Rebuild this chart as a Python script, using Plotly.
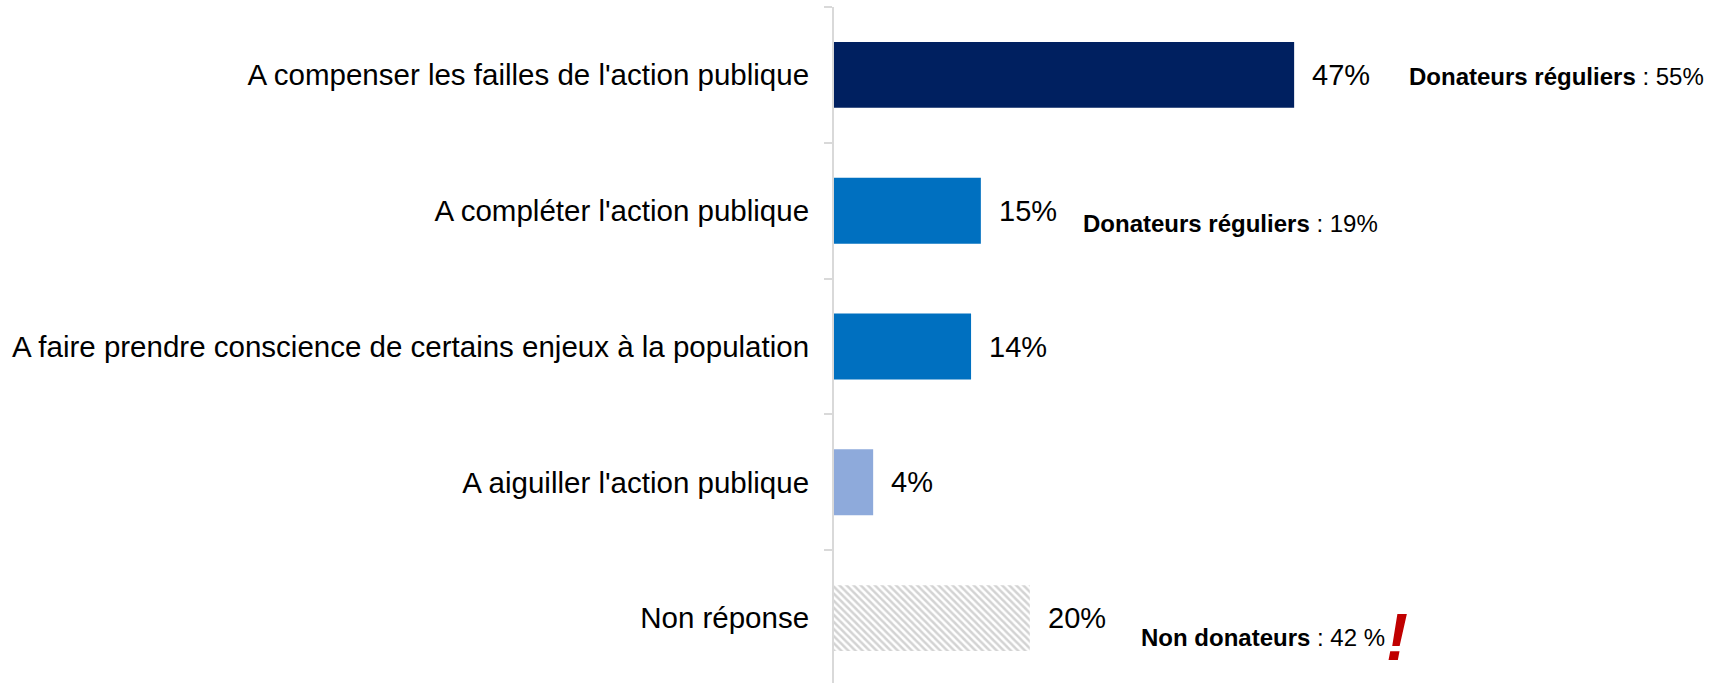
import plotly.graph_objects as go

categories = [
    "A compenser les failles de l'action publique",
    "A compléter l'action publique",
    "A faire prendre conscience de certains enjeux à la population",
    "A aiguiller l'action publique",
    "Non réponse",
]
values = [47, 15, 14, 4, 20]
value_labels = ["47%", "15%", "14%", "4%", "20%"]
bar_colors = ["#002060", "#0070c0", "#0070c0", "#8eaadb"]

# sub-group notes: (category index, bold part, rest, x position in %)
note_rows = [0, 1, 4]
note_bold = ["Donateurs réguliers", "Donateurs réguliers", "Non donateurs"]
note_rest = [" : 55%", " : 19%", " : 42 %"]
note_x = [58.5, 25.2, 31.2]
note_yshift = [-2, -13, -19]

FONT = "Liberation Sans, Arial, sans-serif"

fig = go.Figure()
# solid bars
fig.add_trace(go.Bar(
    y=categories[:4],
    x=values[:4],
    orientation="h",
    width=0.485,
    marker=dict(color=bar_colors, line=dict(width=0)),
    hoverinfo="skip",
    showlegend=False,
))
# hatched "Non réponse" bar
fig.add_trace(go.Bar(
    y=categories[4:],
    x=values[4:],
    orientation="h",
    width=0.485,
    marker=dict(
        color="#ffffff",
        line=dict(width=0),
        pattern=dict(shape="\\", fgcolor="#a8a8a8", bgcolor="#ffffff",
                     size=5, solidity=0.5),
    ),
    hoverinfo="skip",
    showlegend=False,
))

annotations = []
for cat, v, lab in zip(categories, values, value_labels):
    annotations.append(dict(
        x=v, y=cat, xref="x", yref="y", text=lab, showarrow=False,
        xanchor="left", yanchor="middle", xshift=16,
        font=dict(family=FONT, size=29, color="#000000"),
    ))

for r, b, rest, xx, ys in zip(note_rows, note_bold, note_rest, note_x, note_yshift):
    annotations.append(dict(
        x=xx, y=categories[r], xref="x", yref="y",
        text=f"<b>{b}</b>{rest}", showarrow=False,
        xanchor="left", yanchor="middle", yshift=ys,
        font=dict(family=FONT, size=24, color="#000000"),
    ))

# red exclamation mark next to "Non donateurs"
annotations.append(dict(
    x=56.2, y=categories[4], xref="x", yref="y",
    text="<b><i>!</i></b>", showarrow=False,
    xanchor="left", yanchor="middle", yshift=-19,
    font=dict(family=FONT, size=66, color="#c00000"),
))

fig.update_layout(
    width=1721, height=686,
    margin=dict(l=834, r=0, t=7, b=0),
    paper_bgcolor="#ffffff", plot_bgcolor="#ffffff",
    barmode="overlay",
    annotations=annotations,
    xaxis=dict(range=[0, 90.6], visible=False, fixedrange=True),
    yaxis=dict(
        categoryorder="array", categoryarray=categories,
        range=[4.5, -0.5], automargin=False,
        showline=True, linecolor="#d9d9d9", linewidth=2,
        ticks="outside", tickson="boundaries", ticklen=8, tickcolor="#d9d9d9", tickwidth=2,
        ticklabelstandoff=17,
        tickfont=dict(family=FONT, size=29.5, color="#000000"),
        showgrid=False, zeroline=False, fixedrange=True,
    ),
)

fig.write_html(
    "out.html",
    config={"displayModeBar": False, "staticPlot": True},
    post_script="document.body.style.margin='0';document.body.style.overflow='hidden';",
)
